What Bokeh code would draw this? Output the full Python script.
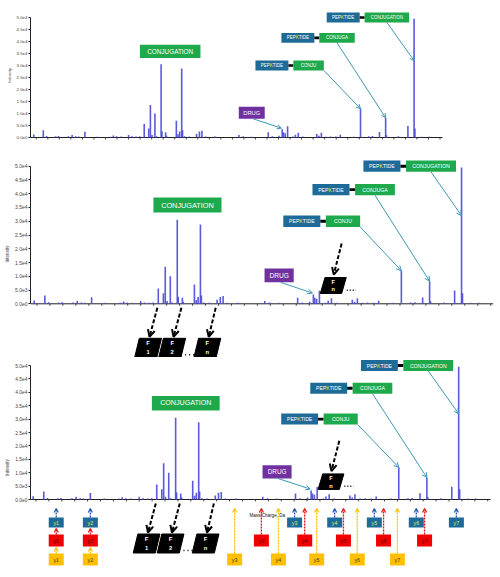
import numpy as np
from bokeh.plotting import figure
from bokeh.layouts import column
from bokeh.models import ColumnDataSource, Range1d, FixedTicker, Arrow, OpenHead
from bokeh.core.properties import value
from bokeh.embed import file_html
from bokeh.resources import INLINE

# ---------------------------------------------------------------- data
# centroided peaks: position on a 0-1000 m/z scale, intensity in counts
peak_mz = [8, 31, 39, 61, 68, 92, 101, 110, 117, 132, 162, 194, 201, 209, 220,
           238, 246, 256, 265, 276, 287, 291, 295, 302, 306, 317, 319, 328, 330,
           354, 358, 362, 367, 369, 374, 385, 403, 410, 416, 425, 447, 449, 506,
           516, 536, 577, 587, 603, 611, 614, 618, 624, 637, 643, 650, 661, 695,
           700, 706, 717, 728, 741, 752, 784, 801, 821, 830, 847, 862, 864, 893,
           916, 931, 933, 950, 968]
peak_int = [1200, 3000, 600, 500, 600, 500, 1000, 500, 400, 2400, 350, 350, 800,
            500, 400, 1000, 500, 400, 500, 5600, 3800, 13500, 1000, 10000, 500,
            30500, 2600, 2200, 700, 7000, 1400, 2500, 28800, 3000, 500, 400, 1500,
            2500, 2800, 400, 400, 300, 1000, 500, 350, 2200, 500, 700, 3400, 2200,
            1800, 4700, 400, 1100, 2000, 400, 1500, 700, 2000, 350, 450, 400, 1100,
            350, 12000, 500, 600, 2300, 8200, 900, 500, 4800, 49500, 3800, 350, 350]

tick_values = [0, 5000, 10000, 15000, 20000, 25000, 30000, 35000, 40000, 45000, 50000]
tick_labels = ["0.0e0", "5.0e3", "1.0e4", "1.5e4", "2.0e4", "2.5e4", "3.0e4",
               "3.5e4", "4.0e4", "4.5e4", "5.0e4"]

# peptide-conjugate fragments and the peaks they belong to
conj_labels = ["CONJU", "CONJUGA", "CONJUGATION"]
conj_peak_mz = [801, 862, 931]
drug_peak_mz = 611

# in-source fragments F1, F2 ... Fn and the peaks they come from
frag_labels = ["1", "2", "n"]
frag_source_mz = [274, 326, 400]
frag_box_mz = [254, 306, 382]

# y-ion ladders of the three species
ion_labels = ["y1", "y2", "y3", "y4", "y5", "y6", "y7"]
ion_mz_blue = [58, 132, 575, 662, 748, 839, 926]
ion_mz_red = [58, 132, 503, 597, 681, 768, 857]
ion_mz_yellow = [58, 132, 445, 540, 623, 711, 798]

# ---------------------------------------------------------------- style
FONT = "Liberation Sans"
BAR = "#4848dc"
GREEN = "#1fa94d"
BLUE = "#1e6b98"
PURPLE = "#7030a0"
TEAL = "#3f97b5"
KYEL = "#f0f000"
ION_COLORS = {"blue": "#1e6b98", "red": "#f00000", "yellow": "#ffc000"}
ION_TEXT = {"blue": "#d8ec60", "red": "#500000", "yellow": "#4a3a10"}
ION_ARROW = {"blue": "#2456b0", "red": "#e81010", "yellow": "#ffc000"}

FRAME_LEFT, FRAME_RIGHT = 30, 493   # shared plot frame of the stacked panels
height_of = dict(zip(peak_mz, peak_int))


def texts(p, xs, ys, labels, size, color="white", align="center", xo=0, yo=0, bold=False):
    p.text(x=xs, y=ys, text=labels, text_align=align, text_baseline="middle",
           text_font=value(FONT), text_font_size=f"{size:.1f}px", text_color=color,
           x_offset=xo, y_offset=yo, text_font_style="bold" if bold else "normal")


def parallelogram(cx, cy, w, h, k):
    return ([cx - w / 2 - k, cx + w / 2 - k, cx + w / 2 + k, cx - w / 2 + k],
            [cy - h / 2, cy - h / 2, cy + h / 2, cy + h / 2])


def build_panel(height, base, span, axis_from, axis_to, fragments=False, ladder=False):
    ppx = 5e4 / span                     # counts per screen pixel
    upx = (axis_to - axis_from) / 1000   # screen pixels per m/z unit
    s = span / 137.6                     # text scale of this panel
    x_start = -(axis_from - FRAME_LEFT) / upx
    x_end = x_start + (FRAME_RIGHT - FRAME_LEFT) / upx
    p = figure(width=500, height=height, x_range=Range1d(x_start, x_end),
               y_range=Range1d(-(height - base) * ppx, base * ppx),
               x_axis_location=None, toolbar_location=None, output_backend="svg",
               min_border_left=FRAME_LEFT, min_border_right=500 - FRAME_RIGHT,
               min_border_top=0, min_border_bottom=0,
               outline_line_color=None, background_fill_color="white",
               border_fill_color="white")
    p.xgrid.visible = False
    p.ygrid.visible = False

    ax = p.yaxis[0]
    ax.bounds = (0, 5e4)
    ax.ticker = FixedTicker(ticks=tick_values, minor_ticks=[])
    ax.major_label_overrides = {float(v): l for v, l in zip(tick_values, tick_labels)}
    ax.major_label_text_font = "Liberation Sans"
    ax.major_label_text_font_size = f"{5.0 * s:.1f}px"
    ax.major_label_standoff = 1
    ax.major_tick_out = 2
    ax.major_tick_in = 0
    ax.minor_tick_out = 0
    ax.minor_tick_in = 0
    ax.axis_label = "Intensity"
    ax.axis_label_text_font = "Liberation Sans"
    ax.axis_label_text_font_size = f"{4.6 * s:.1f}px"
    ax.axis_label_text_font_style = "normal"
    ax.axis_label_standoff = 2
    ax.axis_line_color = "#222222"
    ax.major_tick_line_color = "#222222"

    # m/z axis line with small unlabelled ticks
    p.segment(x0=[x_start], y0=[0], x1=[1000], y1=[0], line_color="#222222", line_width=1)
    xt = np.arange(14, 1000, 28)
    p.segment(x0=xt, y0=0, x1=xt, y1=-2 * ppx, line_color="#222222", line_width=0.8)

    # spectrum
    src = ColumnDataSource(dict(mz=peak_mz, inten=peak_int))
    p.segment(x0="mz", y0=0, x1="mz", y1="inten", source=src,
              line_color=BAR, line_width=1.6, line_alpha=0.9)

    # CONJUGATION label over the conjugation cluster
    p.rect(x=[339], y=[35900], width=147, height=5450, fill_color=GREEN, line_color=None)
    texts(p, [339], [35900], ["CONJUGATION"], 7.3 * s)

    # PEPKTIDE - CONJ... labels
    blue_left = [546, 609, 719]
    row_y = [30000, 41500, 50000]
    green_w = [74, 86, 108]
    bw, gap, bh = 80, 12, 4100
    fs = 5.2 * s
    for lab, pm, bl, ry, gw in zip(conj_labels, conj_peak_mz, blue_left, row_y, green_w):
        bc = bl + bw / 2
        gl = bl + bw + gap
        gc = gl + gw / 2
        p.rect(x=[bc], y=[ry], width=bw, height=bh, fill_color=BLUE, line_color=None)
        p.rect(x=[bl + bw + gap / 2], y=[ry], width=gap, height=bh * 0.26,
               fill_color="black", line_color=None)
        p.rect(x=[gc], y=[ry], width=gw, height=bh, fill_color=GREEN, line_color=None)
        texts(p, [bc], [ry], ["PEP"], fs, align="right", xo=-0.4725 * fs)
        texts(p, [bc], [ry], ["K"], fs, color=KYEL, align="left", xo=-0.4725 * fs)
        texts(p, [bc], [ry], ["TIDE"], fs, align="left", xo=0.194 * fs)
        texts(p, [gc], [ry], [lab], fs)
        start_x = gc if lab != "CONJU" else gl + gw
        end_y = min(height_of[pm], 32000)
        p.add_layout(Arrow(end=OpenHead(size=5 * s, line_color=TEAL, line_width=1),
                           x_start=start_x, y_start=ry - bh / 2, x_end=pm, y_end=end_y,
                           line_color=TEAL, line_width=1))

    # DRUG label
    p.rect(x=[537], y=[10300], width=63, height=5000, fill_color=PURPLE, line_color=None)
    texts(p, [537], [10300], ["DRUG"], 6.6 * s)
    p.add_layout(Arrow(end=OpenHead(size=5 * s, line_color=TEAL, line_width=1),
                       x_start=540, y_start=7800, x_end=drug_peak_mz - 2,
                       y_end=height_of[drug_peak_mz] + 500, line_color=TEAL, line_width=1))

    if fragments:
        # Fn fragment next to the drug peak
        xs, ys = parallelogram(654, 6650, 46, 5800, 5)
        p.patch(xs, ys, fill_color="black", line_color="black")
        texts(p, [654, 654], [6650 + 1450, 6650 - 1450], ["F", "n"], 5.6, bold=True)
        p.segment(x0=[683], y0=[4900], x1=[703], y1=[4900], line_color="black",
                  line_width=1.5, line_dash="1 2")
        p.add_layout(Arrow(end=OpenHead(size=7, line_color="black", line_width=2),
                           x_start=672, y_start=21900, x_end=655, y_end=10600,
                           line_color="black", line_width=2, line_dash="4 2"))

        # F1, F2 ... Fn under the axis
        cy, fh = -44 * ppx, 19 * ppx
        for lab, sm, bm in zip(frag_labels, frag_source_mz, frag_box_mz):
            xs, ys = parallelogram(bm, cy, 48, fh, 5)
            p.patch(xs, ys, fill_color="black", line_color="black")
            texts(p, [bm, bm], [cy + fh * 0.24, cy - fh * 0.24], ["F", lab], 5.8, bold=True)
            p.add_layout(Arrow(end=OpenHead(size=7, line_color="black", line_width=2),
                               x_start=sm, y_start=-4 * ppx, x_end=bm + 3, y_end=-33 * ppx,
                               line_color="black", line_width=2, line_dash="4 2"))
        p.segment(x0=[334], y0=[-51 * ppx], x1=[357], y1=[-51 * ppx], line_color="black",
                  line_width=1.6, line_dash="1 3")

    if ladder:
        lanes = {"blue": (23, 10), "red": (41, 12), "yellow": (60, 12)}
        series = {"blue": ion_mz_blue, "red": ion_mz_red, "yellow": ion_mz_yellow}
        for name, mzs in series.items():
            c, h = lanes[name]
            yc = [-c * ppx] * len(mzs)
            p.rect(x=mzs, y=yc, width=15, height=h, width_units="screen",
                   height_units="screen", fill_color=ION_COLORS[name], line_color=None)
            texts(p, mzs, yc, ion_labels, 5.4, color=ION_TEXT[name])
            x0, y0, y1 = [], [], []
            for m in mzs:
                top = c - h / 2
                above = [lanes[o][0] + lanes[o][1] / 2 for o, om in series.items()
                         if o != name and m in om and lanes[o][0] < c]
                end = max(above) + 1 if above else 9
                x0.append(m)
                y0.append(-top * ppx)
                y1.append(-end * ppx)
            arr = ColumnDataSource(dict(x0=x0, y0=y0, x1=x0, y1=y1))
            p.add_layout(Arrow(end=OpenHead(size=4, line_color=ION_ARROW[name], line_width=1.2),
                               x_start="x0", y_start="y0", x_end="x1", y_end="y1", source=arr,
                               line_color=ION_ARROW[name], line_width=1.3, line_dash="2 1"))
        texts(p, [477], [-16 * ppx], ["Mass/Charge, Da"], 4.6, color="#111111", align="left")

    return p


p1 = build_panel(150, 137, 120, 30, 442)
p2 = build_panel(207, 153.3, 137.6, 30, 493, fragments=True)
p3 = build_panel(220, 142, 134, 29, 490, fragments=True, ladder=True)

layout = column(p1, p2, p3, spacing=0)
open("out.html", "w").write(file_html(layout, INLINE))
